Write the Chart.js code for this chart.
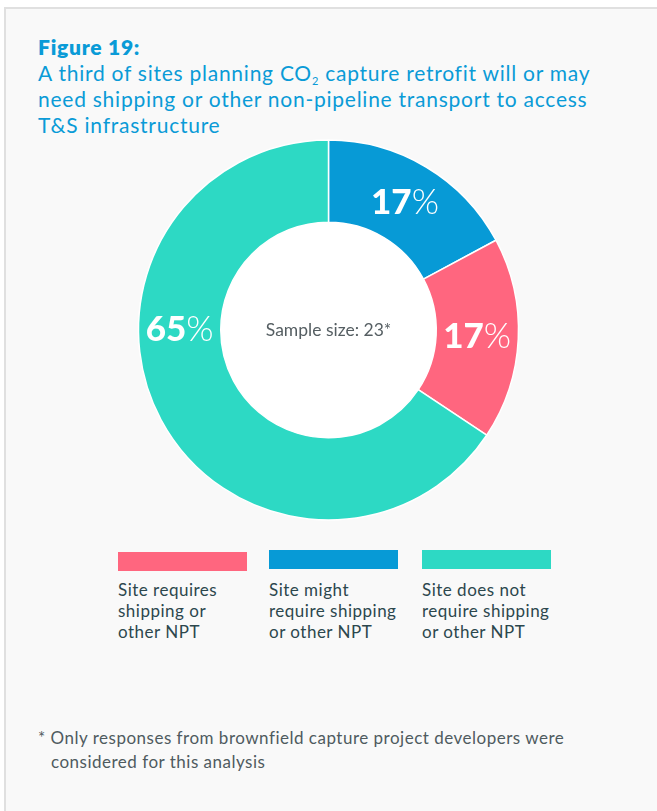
<!DOCTYPE html>
<html>
<head>
<meta charset="utf-8">
<script src="https://cdn.jsdelivr.net/npm/chart.js@4"></script>
<style>
  html, body { margin: 0; padding: 0; background: #fff; }
  body { width: 657px; height: 811px; position: relative; overflow: hidden; font-family: Lato, "Open Sans", sans-serif; }
  #panel { position: absolute; left: 4px; top: 7px; width: 700px; height: 900px; background: #f9f9f9; border-top: 2px solid #e0e0e0; border-left: 2px solid #e0e0e0; }
  #title { position: absolute; left: 38px; top: 34px; color: #0a9bd7; font-size: 21px; letter-spacing: 0.75px; line-height: 26px; }
  #title b { font-weight: 800; }
  #title sub { font-size: 11px; vertical-align: -4px; line-height: 0; }
  #chartBox { position: absolute; left: 0; top: 130px; width: 657px; height: 400px; }
  .leg { position: absolute; width: 150px; color: #2c474d; font-size: 17px; letter-spacing: 0.5px; line-height: 21px; }
  .leg .bar { position: absolute; left: 0; width: 129px; height: 19px; }
  #note { position: absolute; left: 38px; top: 726px; color: #4f5b5f; font-size: 17px; letter-spacing: 0.5px; line-height: 24px; }
  #note span { margin-left: 13px; }
</style>
</head>
<body>
<div id="panel"></div>
<div id="title"><b>Figure 19:</b><br>A third of sites planning CO<sub>2</sub> capture retrofit will or may<br>need shipping or other non-pipeline transport to access<br>T&amp;S infrastructure</div>
<div id="chartBox"><canvas id="donut"></canvas></div>
<div id="legend"></div>
<div id="note">* Only responses from brownfield capture project developers were<br><span>considered for this analysis</span></div>
<script>
// slices, clockwise from 12 o'clock
let categories = ["Site might require shipping or other NPT", "Site requires shipping or other NPT", "Site does not require shipping or other NPT"];
let shares = [17, 17, 65];
let sliceColors = ["#079ad6", "#ff667f", "#2dd9c4"];
let legendOrder = [1, 0, 2];
let legendLines = [
    ["Site might", "require shipping", "or other NPT"],
    ["Site requires", "shipping or", "other NPT"],
    ["Site does not", "require shipping", "or other NPT"]
];
let legendLeft = [269, 118, 422];
let barDrop = [0, 2, 0];
let sampleSize = 23;

// legend: colour bar with wrapped text underneath
let legendEl = document.getElementById("legend");
legendOrder.forEach(i => {
    let d = document.createElement("div");
    d.className = "leg";
    d.style.left = legendLeft[i] + "px";
    d.style.top = "550px";
    d.style.paddingTop = "29px";
    d.innerHTML = '<div class="bar" style="top:' + barDrop[i] + 'px;background:' + sliceColors[i] + '"></div>' + legendLines[i].join("<br>");
    legendEl.appendChild(d);
});

// percentage labels in the ring and the sample size in the hole
const ringLabels = {
    id: "ringLabels",
    afterDatasetsDraw(chart) {
        let ctx = chart.ctx;
        let arcs = chart.getDatasetMeta(0).data;
        ctx.save();
        ctx.textBaseline = "middle";
        arcs.forEach((arc, i) => {
            let p = arc.getProps(["x", "y", "startAngle", "endAngle", "innerRadius", "outerRadius"], true);
            let mid = (p.startAngle + p.endAngle) / 2;
            if (p.endAngle - p.startAngle > Math.PI) mid = Math.PI;
            let r = (p.innerRadius + p.outerRadius) / 2;
            let cx = p.x + Math.cos(mid) * r;
            let cy = p.y + Math.sin(mid) * r;
            let num = String(shares[i]);
            ctx.font = "900 35px Lato";
            let w1 = ctx.measureText(num).width;
            ctx.font = "300 35px Lato";
            let w2 = ctx.measureText("%").width;
            let x0 = cx - (w1 + w2) / 2;
            ctx.fillStyle = "#ffffff";
            ctx.textAlign = "left";
            ctx.font = "900 35px Lato";
            ctx.fillText(num, x0, cy);
            ctx.font = "300 35px Lato";
            ctx.fillText("%", x0 + w1, cy);
        });
        let c = arcs[0];
        ctx.fillStyle = "#555e62";
        ctx.font = "17.5px Lato";
        ctx.textAlign = "center";
        ctx.fillText("Sample size: " + sampleSize + "*", c.x, c.y);
        ctx.restore();
    }
};

// white fill for the hole
const holeFill = {
    id: "holeFill",
    beforeDatasetsDraw(chart) {
        let a = chart.getDatasetMeta(0).data[0];
        let ctx = chart.ctx;
        ctx.save();
        ctx.fillStyle = "#ffffff";
        ctx.beginPath();
        ctx.arc(a.x, a.y, a.innerRadius + 1, 0, Math.PI * 2);
        ctx.fill();
        ctx.restore();
    }
};

new Chart("donut", {
    type: "doughnut",
    data: {
        labels: categories,
        datasets: [{
            data: shares,
            backgroundColor: sliceColors,
            borderColor: "#ffffff",
            borderWidth: 1.5
        }]
    },
    options: {
        responsive: true,
        maintainAspectRatio: false,
        animation: false,
        radius: 190,
        cutout: 113,
        plugins: {
            legend: { display: false },
            tooltip: { enabled: false }
        }
    },
    plugins: [holeFill, ringLabels]
});
</script>
</body>
</html>
